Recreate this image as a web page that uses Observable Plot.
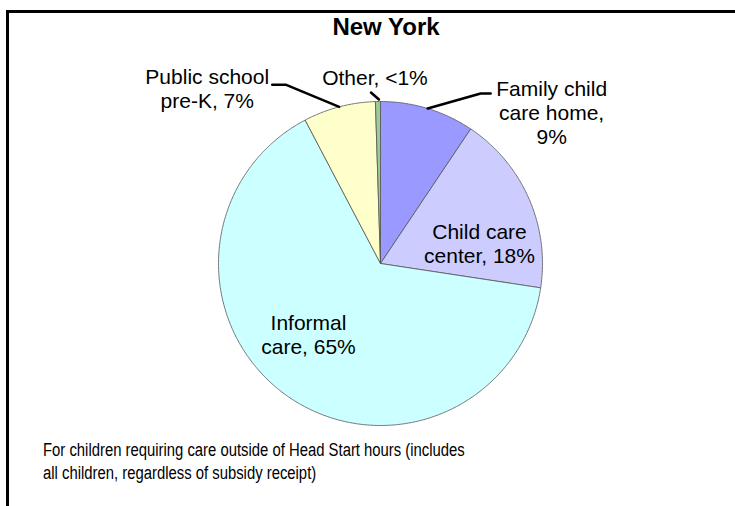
<!DOCTYPE html>
<html>
<head>
<meta charset="utf-8">
<script src="https://cdn.jsdelivr.net/npm/d3@7"></script>
<script src="https://cdn.jsdelivr.net/npm/@observablehq/plot@0.6"></script>
<style>
  html, body { margin: 0; padding: 0; background: #fff; width: 735px; height: 506px; overflow: hidden; }
  body { position: relative; font-family: "Liberation Sans", Arial, sans-serif; }
  #frame { position: absolute; left: 6px; top: 10px; width: 760px; height: 540px; border: 3px solid #000; box-sizing: border-box; }
  #title { position: absolute; left: 0; top: 14px; width: 772px; text-align: center; font-weight: bold; font-size: 24px; line-height: 26px; color: #000; }
  #chart { position: absolute; left: 0; top: 0; }
  #caption { position: absolute; left: 43px; top: 439px; font-size: 18px; line-height: 23px; color: #000; white-space: nowrap; transform: scaleX(0.825); transform-origin: 0 0; }
</style>
</head>
<body>
<div id="frame"></div>
<div id="title">New York</div>
<div id="chart"></div>
<div id="caption">For children requiring care outside of Head Start hours (includes<br>all children, regardless of subsidy receipt)</div>
<script>
// ---- data ----
const categories = ["Family child care home", "Child care center", "Informal care", "Public school pre-K", "Other"];
const shares = [9.4, 18.0, 64.9, 7.2, 0.5];
const shareLabels = ["Family child\ncare home,\n9%", "Child care\ncenter, 18%", "Informal\ncare, 65%", "Public school\npre-K, 7%", "Other, <1%"];
const colors = ["#9999FF", "#CCCCFF", "#CCFFFF", "#FFFFCC", "#99CC99"];

// ---- layout ----
const W = 735, H = 506;
const cx = 380, cy = 263, R = 162;
const toRad = Math.PI / 180;

const pie = d3.pie().sort(null).value(d => d)(shares);
const slices = pie.map((p, i) => ({cat: categories[i], a0: p.startAngle, a1: p.endAngle, mid: (p.startAngle + p.endAngle) / 2}));
const polar = (a, k) => [k * Math.sin(a), k * Math.cos(a)];

// polygon points per slice in unit-circle coordinates
const polyPts = [];
slices.forEach(s => {
  const n = Math.max(2, Math.ceil((s.a1 - s.a0) / (0.5 * toRad)));
  polyPts.push({cat: s.cat, x: 0, y: 0});
  for (let j = 0; j <= n; j++) {
    const a = s.a0 + (s.a1 - s.a0) * j / n;
    const [x, y] = polar(a, 1);
    polyPts.push({cat: s.cat, x, y});
  }
  polyPts.push({cat: s.cat, x: 0, y: 0});
});

// label placement: pixel offsets from slice edge point (outside) or from centre (inside)
const px = v => v / R;
const labelLayout = [
  {from: "edge", dx: 124, dy: 4, leader: [[0, 0], [53, -15], [63, -15]]},
  {from: "centre", dx: 99, dy: -20},
  {from: "centre", dx: -72, dy: 71},
  {from: "edge", dx: -132, dy: -19, leader: [[0, 0], [-53, -22], [-67, -22]]},
  {from: "edge", dx: -3, dy: -24, leader: [[1, -2], [-7, -9]]}
];

const labels = slices.map((s, i) => {
  const L = labelLayout[i];
  const base = L.from === "edge" ? polar(s.mid, 1) : [0, 0];
  return {text: shareLabels[i], x: base[0] + px(L.dx), y: base[1] - px(L.dy)};
});
const leaders = [];
slices.forEach((s, i) => {
  const L = labelLayout[i];
  if (!L.leader) return;
  const e = polar(s.mid, 1);
  L.leader.forEach(([ox, oy]) => leaders.push({cat: s.cat, x: e[0] + px(ox), y: e[1] - px(oy)}));
});

const chart = Plot.plot({
  width: W,
  height: H,
  margin: 0,
  x: {domain: [-1, 1], range: [cx - R, cx + R], axis: null},
  y: {domain: [-1, 1], range: [cy + R, cy - R], axis: null},
  color: {domain: categories, range: colors},
  style: {fontFamily: "'Liberation Sans', Arial, sans-serif", background: "transparent", overflow: "visible"},
  marks: [
    Plot.line(polyPts, {x: "x", y: "y", z: "cat", fill: "cat", stroke: "#555", strokeWidth: 0.8, strokeLinejoin: "round", curve: "linear"}),
    Plot.line(leaders, {x: "x", y: "y", z: "cat", stroke: "#000", strokeWidth: 2.5}),
    Plot.text(labels, {x: "x", y: "y", text: "text", fontSize: 21, lineHeight: 1.143, fill: "#000", textAnchor: "middle"})
  ]
});
document.getElementById("chart").appendChild(chart);
</script>
</body>
</html>
